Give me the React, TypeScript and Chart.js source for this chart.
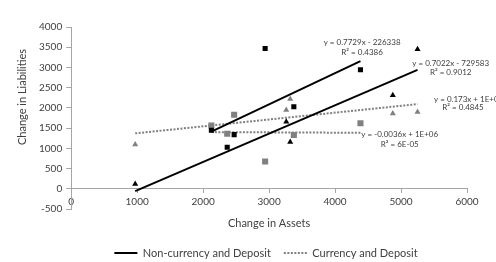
import React, { useEffect, useRef } from 'react';
import { Chart, registerables } from 'chart.js';

Chart.register(...registerables);

// Change in Assets (x) for the square-marker series
const squareAssets = [2125, 2365, 2470, 2940, 3375, 4385];
const squareNonCurrency = [1450, 1030, 1340, 3467, 2029, 2945];
const squareCurrency = [1565, 1360, 1830, 675, 1330, 1620];

// Change in Assets (x) for the triangle-marker series
const triangleAssets = [970, 3260, 3320, 4875, 5250];
const triangleNonCurrency = [120, 1660, 1160, 2314, 3453];
const triangleCurrency = [1095, 1946, 2221, 1865, 1897];

const xTickValues = [0, 1000, 2000, 3000, 4000, 5000, 6000];
const yTickValues = [-500, 0, 500, 1000, 1500, 2000, 2500, 3000, 3500, 4000];

const legendLabels = ['Non-currency and Deposit', 'Currency and Deposit'];
const xTitle = 'Change in Assets';
const yTitle = 'Change in Liabilities';

const trendEquations = [
  'y = 0.7729x - 226338',
  'y = 0.7022x - 729583',
  'y = 0.173x + 1E+06',
  'y = -0.0036x + 1E+06',
];
const trendR2 = ['R² = 0.4386', 'R² = 0.9012', 'R² = 0.4845', 'R² = 6E-05'];

const FONT = 'Lato, "Open Sans", sans-serif';
const BLACK = '#000000';
const GRAY = '#808080';
const AXIS = '#a6a6a6';
const TEXT = '#404040';

function zip(xs: number[], ys: number[]) {
  return xs.map((x, i) => ({ x, y: ys[i] }));
}

function trend(xs: number[], ys: number[]) {
  const n = xs.length;
  const mx = xs.reduce((a, b) => a + b, 0) / n;
  const my = ys.reduce((a, b) => a + b, 0) / n;
  let sxy = 0;
  let sxx = 0;
  for (let i = 0; i < n; i++) {
    sxy += (xs[i] - mx) * (ys[i] - my);
    sxx += (xs[i] - mx) * (xs[i] - mx);
  }
  const slope = sxy / sxx;
  const icpt = my - slope * mx;
  const x0 = Math.min(...xs);
  const x1 = Math.max(...xs);
  return [
    { x: x0, y: slope * x0 + icpt },
    { x: x1, y: slope * x1 + icpt },
  ];
}

const annotationPlugin = {
  id: 'annotations',
  afterLayout(chart: any) {
    // centre the legend under the plot like the original
    const lg = chart.legend;
    if (lg) {
      lg.left += 15;
      lg.right += 15;
    }
  },
  afterDraw(chart: any) {
    const { ctx } = chart;
    const xs = chart.scales.x;
    const ys = chart.scales.y;
    ctx.save();
    // y axis title
    ctx.save();
    ctx.translate(22, 97);
    ctx.rotate(-Math.PI / 2);
    ctx.font = `11px ${FONT}`;
    ctx.fillStyle = TEXT;
    ctx.textAlign = 'center';
    ctx.textBaseline = 'middle';
    ctx.fillText(yTitle, 0, 0);
    ctx.restore();

    // trendline labels (anchors in data space)
    const anchors = [
      { x: 4410, y: 3615, y2: 3380, align: 'center' },
      { x: 5753, y: 3109, y2: 2879, align: 'center' },
      { x: 5500, y: 2209, y2: 2005, align: 'left', x2: 5939 },
      { x: 4980, y: 1350, y2: 1087, align: 'center' },
    ];
    ctx.font = `8px ${FONT}`;
    ctx.fillStyle = TEXT;
    ctx.textBaseline = 'middle';
    anchors.forEach((a: any, i) => {
      ctx.textAlign = a.align;
      ctx.fillText(trendEquations[i], xs.getPixelForValue(a.x), ys.getPixelForValue(a.y));
      ctx.textAlign = 'center';
      ctx.fillText(trendR2[i], xs.getPixelForValue(a.x2 ?? a.x), ys.getPixelForValue(a.y2));
    });
    ctx.restore();
  },
};

export default function App() {
  const ref = useRef<HTMLCanvasElement | null>(null);

  useEffect(() => {
    if (!ref.current) return;
    const markerBase = { showLine: false, borderWidth: 0 };
    const chart = new Chart(ref.current, {
      type: 'scatter',
      data: {
        datasets: [
          {
            ...markerBase,
            label: 'sq-nc',
            data: zip(squareAssets, squareNonCurrency),
            pointStyle: 'rect',
            pointRadius: 3.6,
            backgroundColor: BLACK,
            borderColor: BLACK,
          },
          {
            ...markerBase,
            label: 'sq-c',
            data: zip(squareAssets, squareCurrency),
            pointStyle: 'rect',
            pointRadius: 4.3,
            backgroundColor: GRAY,
            borderColor: GRAY,
          },
          {
            ...markerBase,
            label: 'tr-nc',
            data: zip(triangleAssets, triangleNonCurrency),
            pointStyle: 'triangle',
            pointRadius: 3.5,
            backgroundColor: BLACK,
            borderColor: BLACK,
          },
          {
            ...markerBase,
            label: 'tr-c',
            data: zip(triangleAssets, triangleCurrency),
            pointStyle: 'triangle',
            pointRadius: 3.5,
            backgroundColor: GRAY,
            borderColor: GRAY,
          },
          {
            label: 'trend-sq-nc',
            data: trend(squareAssets, squareNonCurrency),
            showLine: true,
            pointRadius: 0,
            borderColor: BLACK,
            borderWidth: 2,
          },
          {
            label: 'trend-tr-nc',
            data: trend(triangleAssets, triangleNonCurrency),
            showLine: true,
            pointRadius: 0,
            borderColor: BLACK,
            borderWidth: 2,
          },
          {
            label: 'trend-tr-c',
            data: trend(triangleAssets, triangleCurrency),
            showLine: true,
            pointRadius: 0,
            borderColor: GRAY,
            borderWidth: 2,
            borderDash: [2, 1.5],
          },
          {
            label: 'trend-sq-c',
            data: trend(squareAssets, squareCurrency),
            showLine: true,
            pointRadius: 0,
            borderColor: GRAY,
            borderWidth: 2,
            borderDash: [2, 1.5],
          },
        ],
      },
      options: {
        animation: false,
        responsive: false,
        maintainAspectRatio: false,
        layout: { padding: { left: 35, right: 29, top: 27, bottom: -6.5 } },
        plugins: {
          tooltip: { enabled: false },
          legend: {
            position: 'bottom',
            title: { display: true, text: ' ', font: { size: 12, lineHeight: 1.2 }, padding: 5.5 },
            labels: {
              usePointStyle: true,
              pointStyleWidth: 23,
              padding: 13,
              color: TEXT,
              font: { family: FONT, size: 11 },
              generateLabels: () => [
                {
                  text: legendLabels[0],
                  pointStyle: 'line',
                  strokeStyle: BLACK,
                  fillStyle: BLACK,
                  lineWidth: 2,
                  lineDash: [],
                  hidden: false,
                  fontColor: TEXT,
                },
                {
                  text: legendLabels[1],
                  pointStyle: 'line',
                  strokeStyle: GRAY,
                  fillStyle: GRAY,
                  lineWidth: 2,
                  lineDash: [2, 1.5],
                  hidden: false,
                  fontColor: TEXT,
                },
              ],
            },
          },
        },
        scales: {
          x: {
            type: 'linear',
            min: 0,
            max: 6000,
            position: { y: 0 },
            afterBuildTicks: (s: any) => {
              s.ticks = xTickValues.map((v) => ({ value: v }));
            },
            ticks: {
              color: TEXT,
              font: { family: FONT, size: 10 },
              padding: 3,
              maxRotation: 0,
              callback: (v: any) => String(v),
            },
            grid: { drawOnChartArea: false, drawTicks: true, tickLength: 4, color: AXIS },
            border: { color: AXIS, width: 1 },
            title: {
              display: true,
              text: xTitle,
              color: TEXT,
              font: { family: FONT, size: 11 },
              padding: { top: 6, bottom: 0 },
            },
          },
          y: {
            type: 'linear',
            min: -500,
            max: 4000,
            position: 'left',
            afterBuildTicks: (s: any) => {
              s.ticks = yTickValues.map((v) => ({ value: v }));
            },
            ticks: {
              color: TEXT,
              font: { family: FONT, size: 10 },
              padding: 4,
              callback: (v: any) => String(v),
            },
            grid: { drawOnChartArea: false, drawTicks: true, tickLength: 5, color: AXIS },
            border: { color: AXIS, width: 1 },
          },
        },
      },
      plugins: [annotationPlugin],
    } as any);
    return () => chart.destroy();
  }, []);

  return (
    <div style={{ position: 'fixed', left: 0, top: 0, width: 496, height: 262, background: '#fff' }}>
      <canvas ref={ref} width={496} height={262} style={{ display: 'block' }} />
    </div>
  );
}
